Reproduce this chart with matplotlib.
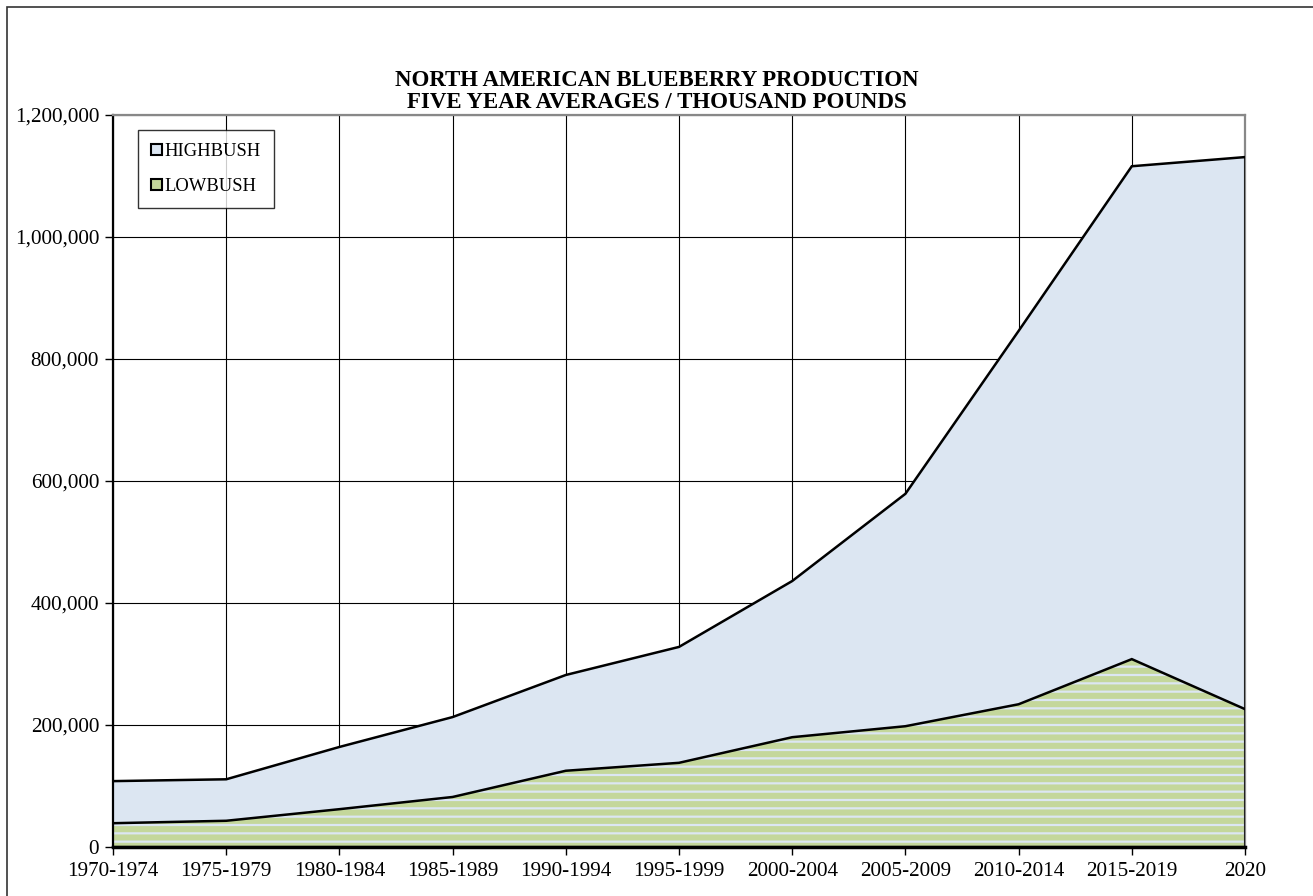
import matplotlib
matplotlib.use("Agg")
import matplotlib.pyplot as plt
import numpy as np
from matplotlib.patches import Rectangle, Patch
from matplotlib.ticker import FuncFormatter

categories = ["1970-1974", "1975-1979", "1980-1984", "1985-1989", "1990-1994",
              "1995-1999", "2000-2004", "2005-2009", "2010-2014", "2015-2019", "2020"]
lowbush = [39000, 43000, 62000, 82000, 125000, 138000, 180000, 198000, 234000, 308000, 226000]
highbush = [69000, 68000, 102000, 131000, 157000, 190000, 256000, 381000, 612000, 808000, 905000]

plt.rcParams['font.family'] = ['Liberation Serif', 'DejaVu Serif']
plt.rcParams['hatch.linewidth'] = 4.4
plt.rcParams['hatch.color'] = '#c4d79b'

fig = plt.figure(figsize=(13.13, 8.96), dpi=100)
W, H = 1313, 896
ax = fig.add_axes([113 / W, 1 - 847 / H, (1245 - 113) / W, (847 - 115) / H])

x = np.arange(len(categories))
low = np.array(lowbush)
total = low + np.array(highbush)

blue = '#dce6f2'
green = '#c4d79b'

ax.fill_between(x, 0, total, facecolor=blue, edgecolor='none', linewidth=0, zorder=2)
ax.fill_between(x, 0, low, facecolor=blue, edgecolor=green, hatch='--', linewidth=0, zorder=2.1)
ax.plot(x, total, color='black', lw=1.8, zorder=4, solid_joinstyle='miter')
ax.plot(x, low, color='black', lw=1.8, zorder=4, solid_joinstyle='miter')
ax.plot([x[-1], x[-1]], [0, total[-1]], color='black', lw=1.8, zorder=4)
ax.plot([x[0], x[-1]], [0, 0], color='black', lw=2.5, zorder=4, clip_on=False)

ax.set_xlim(0, len(categories) - 1)
ax.set_ylim(0, 1200000)
ax.set_xticks(x)
ax.set_xticklabels(categories)
ax.set_yticks(np.arange(0, 1200001, 200000))
ax.yaxis.set_major_formatter(FuncFormatter(lambda v, p: f"{int(v):,}"))
ax.tick_params(axis='both', direction='out', length=6, width=1, labelsize=15.2, color='black', pad=4)
ax.tick_params(axis='x', pad=5)
ax.grid(True, color='black', lw=0.8, zorder=1)
ax.set_axisbelow(True)
for s in ['top', 'right']:
    ax.spines[s].set_color('#888888')
    ax.spines[s].set_linewidth(1.6)
ax.spines['left'].set_color('black')
ax.spines['left'].set_linewidth(1.6)
ax.spines['bottom'].set_color('black')
ax.spines['bottom'].set_linewidth(1.6)

handles = [Patch(facecolor=blue, edgecolor='black', lw=1.5),
           Patch(facecolor=green, edgecolor='black', lw=1.5)]
leg = ax.legend(handles, ['HIGHBUSH', 'LOWBUSH'], loc='upper left',
                bbox_to_anchor=((138 - 113) / (1245 - 113), 1 - (130 - 115) / (847 - 115)),
                fontsize=13.4, frameon=True, fancybox=False, shadow=False, handlelength=0.55,
                handleheight=0.55, handletextpad=0.15, labelspacing=0.95, borderpad=0.72,
                borderaxespad=0)
leg.get_frame().set_edgecolor('black')
leg.get_frame().set_linewidth(1.0)
leg.set_zorder(6)

fig.text(0.5, 1 - 81 / H, "NORTH AMERICAN BLUEBERRY PRODUCTION", ha='center', va='center',
         fontsize=16.5, fontweight='bold')
fig.text(0.5, 1 - 102 / H, "FIVE YEAR AVERAGES / THOUSAND POUNDS", ha='center', va='center',
         fontsize=16.5, fontweight='bold')

fig.patches.append(Rectangle((7 / W, -0.05), 1.1, 1 - 7 / H + 0.05, transform=fig.transFigure,
                             fill=False, edgecolor='#333333', lw=1.2))

fig.savefig('out.png', dpi=100)
